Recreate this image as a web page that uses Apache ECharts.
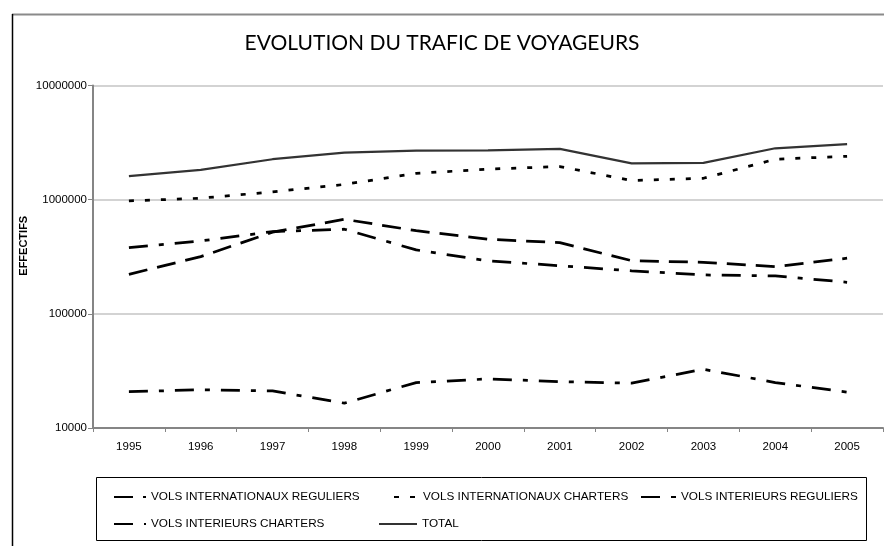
<!DOCTYPE html>
<html>
<head>
<meta charset="utf-8">
<script src="https://cdn.jsdelivr.net/npm/echarts@6/dist/echarts.min.js"></script>
<style>
  html, body { margin: 0; padding: 0; background: #fff; }
  #chart { width: 884px; height: 546px; }
</style>
</head>
<body>
<div id="chart"></div>
<script>
// Years on the category axis
const years = ['1995', '1996', '1997', '1998', '1999', '2000', '2001', '2002', '2003', '2004', '2005'];

// Passenger counts per traffic type
const volsIntReguliers = [222000, 317000, 519000, 673000, 535000, 450000, 420000, 292000, 283000, 259000, 307000];
const volsIntCharters = [975000, 1030000, 1170000, 1360000, 1700000, 1850000, 1950000, 1470000, 1540000, 2260000, 2400000];
const volsInterieursReguliers = [380000, 435000, 525000, 551000, 363000, 291000, 264000, 238000, 219000, 215000, 189000];
const volsInterieursCharters = [20800, 21600, 21100, 16500, 25000, 26900, 25500, 24700, 32700, 25000, 20600];
const total = [1610000, 1820000, 2260000, 2580000, 2690000, 2700000, 2780000, 2080000, 2100000, 2820000, 3070000];

// Series names as shown in the legend
const names = [
  'VOLS INTERNATIONAUX REGULIERS',
  'VOLS INTERNATIONAUX CHARTERS',
  'VOLS INTERIEURS REGULIERS',
  'VOLS INTERIEURS CHARTERS',
  'TOTAL'
];

const LONG_DASH = [19, 10];
const SQUARE_DOT = [5, 11];
const DASH_DOT = [19, 11, 5, 11];

function lineSeries(name, data, dash, color, width) {
  return {
    name: name,
    type: 'line',
    data: data,
    symbol: 'none',
    smooth: false,
    animation: false,
    lineStyle: { color: color, width: width, type: dash, cap: 'butt' },
    itemStyle: { color: color }
  };
}

const legendFont = { fontFamily: 'Liberation Sans, Arial, sans-serif', fontSize: 11.75, color: '#000' };

// One legend block per entry so each sits at its own spot inside the box
function legendItem(name, left, top, w) {
  return {
    data: [name],
    left: left,
    top: top,
    orient: 'horizontal',
    itemWidth: w,
    itemHeight: 12,
    padding: 0,
    selectedMode: false,
    itemStyle: { opacity: 0 },
    textStyle: legendFont
  };
}

const chart = echarts.init(document.getElementById('chart'), null, { renderer: 'canvas' });

chart.setOption({
  backgroundColor: '#ffffff',
  animation: false,
  title: {
    text: 'EVOLUTION DU TRAFIC DE VOYAGEURS',
    left: 'center',
    top: 28,
    textStyle: { fontFamily: 'Lato, "Open Sans", sans-serif', fontWeight: 'normal', fontSize: 21, color: '#000' }
  },
  grid: { left: 93, right: 1, top: 85.5, bottom: 118, containLabel: false },
  xAxis: {
    type: 'category',
    data: years,
    boundaryGap: true,
    axisLine: { lineStyle: { color: '#858585', width: 2 } },
    axisTick: { show: true, length: 4, lineStyle: { color: '#858585', width: 1 } },
    axisLabel: { margin: 13, fontFamily: 'Liberation Sans, Arial, sans-serif', fontSize: 11.5, color: '#000' },
    splitLine: { show: false }
  },
  yAxis: {
    type: 'log',
    logBase: 10,
    min: 10000,
    max: 10000000,
    name: 'EFFECTIFS',
    nameLocation: 'middle',
    nameRotate: 90,
    nameGap: 64,
    nameMoveOverlap: false,
    nameTextStyle: {
      fontFamily: 'Liberation Sans, Arial, sans-serif',
      fontWeight: 'bold',
      fontSize: 11,
      color: '#000',
      padding: [0, 0, 0, 22]
    },
    axisLine: { show: true, lineStyle: { color: '#858585', width: 2 } },
    axisTick: { show: true, length: 5, lineStyle: { color: '#858585', width: 1 } },
    axisLabel: {
      margin: 6,
      fontFamily: 'Liberation Sans, Arial, sans-serif',
      fontSize: 11.5,
      color: '#000',
      formatter: function (v) { return String(Math.round(v)); }
    },
    splitLine: { show: true, lineStyle: { color: '#c4c4c4', width: 1.5 } }
  },
  legend: [
    legendItem(names[0], 113, 491, 32),
    legendItem(names[1], 393, 491, 24),
    legendItem(names[2], 640, 491, 35),
    legendItem(names[3], 113, 518, 32),
    legendItem(names[4], 378, 518, 38)
  ],
  graphic: [
    // outer chart frame
    { type: 'line', shape: { x1: 12, y1: 14.5, x2: 884, y2: 14.5 }, style: { stroke: '#8a8a8a', lineWidth: 2 }, silent: true },
    { type: 'line', shape: { x1: 12.5, y1: 14, x2: 12.5, y2: 546 }, style: { stroke: '#000', lineWidth: 1.5 }, silent: true },
    // legend box
    { type: 'rect', shape: { x: 96.5, y: 477.5, width: 770, height: 63 }, style: { fill: 'none', stroke: '#000', lineWidth: 1 }, silent: true, z: -1 }
  ],
  series: [
    lineSeries(names[0], volsIntReguliers, LONG_DASH, '#000', 2.75),
    lineSeries(names[1], volsIntCharters, SQUARE_DOT, '#000', 2.75),
    lineSeries(names[2], volsInterieursReguliers, DASH_DOT, '#000', 2.75),
    lineSeries(names[3], volsInterieursCharters, DASH_DOT, '#000', 2.75),
    lineSeries(names[4], total, 'solid', '#333', 2.25)
  ]
});
</script>
</body>
</html>
